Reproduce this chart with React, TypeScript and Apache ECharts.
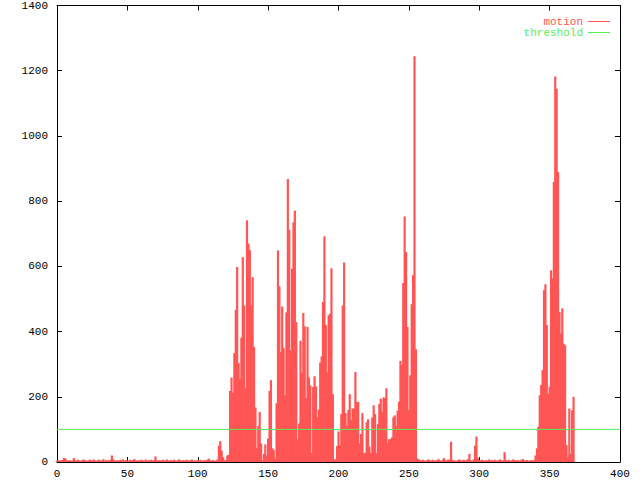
import React, { useEffect, useRef } from "react";
import * as echarts from "echarts";

const seriesNames = ["motion", "threshold"];
const thresholdValue = 100;
const xTicks = [0, 400, 50];
const yTicks = [0, 1400, 200];

// motion values, index = frame number 0..367
const motionNoiseA = [
  4, 6, 3, 5, 7, 12, 11, 5, 4, 6,
  3, 5, 12, 6, 4, 7, 5, 3, 6, 8,
  4, 5, 3, 7, 6, 4, 8, 5, 3, 6,
  7, 4, 5, 9, 3, 6, 5, 4, 7, 20,
  8, 5, 4, 6, 3, 7, 5, 8, 4, 6,
  5, 3, 7, 4, 6, 9, 5, 3, 6, 4,
  7, 5, 4, 8, 3, 6, 5, 7, 4, 6,
  17, 5, 4, 6, 3, 7, 5, 4, 8, 5,
  3, 6, 4, 7, 5, 3, 6, 8, 4, 5,
  6, 3, 7, 5, 4, 6, 8, 3, 5, 4,
  6, 4, 7, 3, 5, 6, 4, 8, 10, 5,
  4, 6, 3, 5, 8, 50, 64, 35, 15,
];
const motionBurstA = [
  5, 6, 20, 22,
  218, 259, 212, 334, 467, 598, 304, 255, 381, 628,
  480, 226, 741, 670, 650, 480, 567, 353, 167, 42,
  110, 153, 57, 5, 25, 54, 20, 72, 218, 251,
  42, 37, 10, 180, 649, 539, 337, 477, 350, 205,
  459, 868, 712, 343, 593, 735, 771, 429, 69,
  118, 372, 274, 457, 416, 196, 414, 259, 235, 28,
  230, 263, 232, 137, 161, 305, 324, 491, 692, 420,
  275, 450, 455, 594, 208, 8, 8, 49, 94, 51,
  147, 480, 612, 150, 110, 159, 208, 129, 164, 164,
  276, 185, 184, 57, 86, 150, 28, 28, 122, 131,
  47, 28, 137, 174,
  147, 27, 116, 178, 194, 154, 198, 196, 226, 59,
  70, 70, 76, 137, 143, 110, 157, 185, 310, 297,
  549, 753, 644, 414, 159, 266, 484, 573, 1244, 346,
];
const motionNoiseB = [
  11, 8, 6, 4, 7, 5, 3, 6, 8, 4,
  5, 7, 3, 6, 4, 9, 5, 3, 7, 12,
  5, 4, 8, 6, 62, 7, 4, 5, 3, 6,
  8, 4, 5, 7, 3, 6, 9, 25, 5, 4,
  8, 50, 78, 12, 6, 4, 7, 5, 3, 6,
  5, 8, 4, 6, 3, 7, 5, 4, 6, 8,
  4, 5, 30, 6, 4, 7, 3, 5, 8, 6,
  4, 6, 5, 3, 7, 9, 5, 4, 6, 3,
];
const motionBurstB = [
  5, 6, 5, 6, 20, 42, 108, 205, 236, 282,
  527, 545, 420, 208, 231, 588, 563, 859, 1182, 1145,
  889, 460, 394, 471, 363, 358, 52, 16, 164, 25,
  159, 200,
];

const motionValues = [...motionNoiseA, ...motionBurstA, ...motionNoiseB, ...motionBurstB];

const RED = "#ff5555";
const GREEN = "#55ee55";
const FONT = "Liberation Mono";

export default function App() {
  const ref = useRef<HTMLDivElement>(null);
  useEffect(() => {
    if (!ref.current) return;
    const chart = echarts.init(ref.current, null, { renderer: "svg" });
    const axisLine = { show: true, onZero: false, lineStyle: { color: "#000", width: 1 } };
    const axisTick = { show: true, inside: true, length: 5, lineStyle: { color: "#000", width: 1 } };
    const label = { color: "#000", fontFamily: FONT, fontSize: 11, formatter: (v: number) => String(v) };
    const xBase = { type: "value", min: xTicks[0], max: xTicks[1], interval: xTicks[2], splitLine: { show: false }, axisLine, axisTick };
    const yBase = { type: "value", min: yTicks[0], max: yTicks[1], interval: yTicks[2], splitLine: { show: false }, axisLine, axisTick };
    chart.setOption({
      animation: false,
      backgroundColor: "#fff",
      grid: { left: 57, right: 20, top: 5, bottom: 18, containLabel: false },
      legend: {
        show: true,
        orient: "vertical",
        right: 30,
        top: 16,
        padding: 0,
        itemGap: 0,
        align: "right",
        itemWidth: 22,
        itemHeight: 1,
        icon: "rect",
        selectedMode: false,
        textStyle: { fontFamily: FONT, fontSize: 11, lineHeight: 11 },
        data: [
          { name: seriesNames[0], textStyle: { color: RED } },
          { name: seriesNames[1], textStyle: { color: GREEN } },
        ],
      },
      xAxis: [
        { ...xBase, position: "bottom", axisLabel: { ...label, margin: 6 } },
        { ...xBase, position: "top", axisLabel: { show: false } },
      ],
      yAxis: [
        { ...yBase, position: "left", axisLabel: { ...label, margin: 9 } },
        { ...yBase, position: "right", axisLabel: { show: false } },
      ],
      series: [
        {
          name: seriesNames[0],
          type: "bar",
          xAxisIndex: 0,
          yAxisIndex: 0,
          barWidth: 2.2,
          color: RED,
          itemStyle: { color: RED },
          silent: true,
          data: motionValues.map((v, i) => [i, v]),
        },
        {
          name: seriesNames[1],
          type: "line",
          xAxisIndex: 0,
          yAxisIndex: 0,
          color: GREEN,
          showSymbol: false,
          symbol: "none",
          silent: true,
          lineStyle: { color: GREEN, width: 1 },
          itemStyle: { color: GREEN },
          data: [[xTicks[0], thresholdValue], [xTicks[1], thresholdValue]],
        },
      ],
    });
    return () => chart.dispose();
  }, []);
  return (
    <div
      ref={ref}
      style={{ position: "fixed", left: 0, top: 0, width: 640, height: 480, background: "#fff" }}
    />
  );
}
